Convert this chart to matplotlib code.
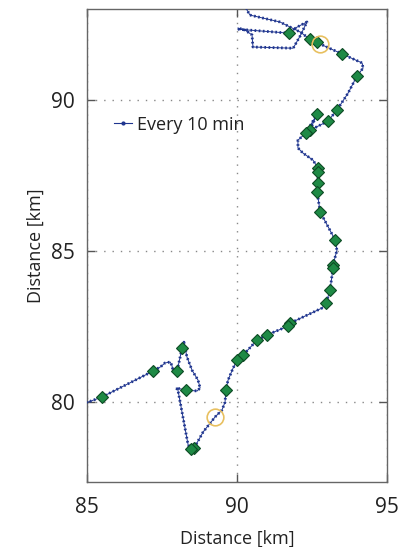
import matplotlib
matplotlib.use("Agg")
import matplotlib.pyplot as plt
from matplotlib.lines import Line2D

plt.rcParams['font.family'] = ['Open Sans', 'DejaVu Sans']

# Main ship track (km)
track_x = [90.28, 90.33, 90.43, 91.43, 92.10, 92.43, 92.67, 92.77, 93.50, 94.17, 94.20, 94.00,
           93.70, 93.33, 93.03, 92.43, 92.67, 92.30, 92.03, 92.03, 92.20, 92.53, 92.70, 92.70,
           92.70, 92.67, 92.77, 93.27, 93.33, 93.20, 93.20, 93.10, 92.97, 92.83, 91.77, 91.70,
           91.00, 90.67, 90.20, 90.00, 89.87, 89.70, 89.63, 89.60, 89.50, 89.27, 88.87, 88.57,
           88.47, 88.37, 88.03, 87.97, 88.30, 88.67, 88.77, 88.70, 88.50, 88.33, 88.23, 88.17,
           88.00, 87.87, 87.83, 87.77, 87.60, 87.45, 87.20, 85.50, 85.03, 84.80]
track_y = [93.20, 92.99, 92.82, 92.59, 92.26, 92.02, 91.92, 91.86, 91.53, 91.23, 91.06, 90.80,
           90.23, 89.67, 89.30, 89.00, 89.54, 88.91, 88.67, 88.41, 88.24, 88.01, 87.74, 87.61,
           87.25, 86.95, 86.29, 85.36, 85.02, 84.53, 84.43, 83.70, 83.27, 83.10, 82.60, 82.50,
           82.21, 82.04, 81.54, 81.38, 81.11, 80.71, 80.38, 79.98, 79.72, 79.49, 78.99, 78.46,
           78.42, 78.56, 80.38, 80.45, 80.38, 80.35, 80.45, 80.71, 81.04, 81.48, 81.97, 81.77,
           81.01, 81.00, 81.20, 81.31, 81.28, 81.15, 81.01, 80.15, 79.98, 79.95]

# Loop near the top of the track (km)
loop_x = [90.03, 91.73, 92.00, 92.33, 92.10, 91.87, 90.53, 90.50, 90.27, 90.03]
loop_y = [92.35, 92.22, 92.42, 92.59, 92.12, 91.72, 91.76, 92.16, 92.32, 92.39]

# Marked positions (green diamonds)
mark_x = [92.43, 92.67, 93.50, 94.00, 93.33, 93.03, 92.43, 92.67, 92.30, 92.70, 92.70, 92.70,
          92.67, 92.77, 93.27, 93.20, 93.20, 93.10, 92.97, 91.77, 91.70, 91.00, 90.67, 90.20,
          90.00, 89.63, 88.57, 88.47, 88.30, 88.17, 88.00, 87.20, 85.50, 91.73]
mark_y = [92.02, 91.92, 91.53, 90.80, 89.67, 89.30, 89.00, 89.54, 88.91, 87.74, 87.61, 87.25,
          86.95, 86.29, 85.36, 84.53, 84.43, 83.70, 83.27, 82.60, 82.50, 82.21, 82.04, 81.54,
          81.38, 80.38, 78.46, 78.42, 80.38, 81.77, 81.01, 81.01, 80.15, 92.22]

# Circled positions
circ_x = [92.77, 89.27]
circ_y = [91.86, 79.49]

x_ticks = [85, 90, 95]
y_ticks = [80, 85, 90]
legend_label = "Every 10 min"
axis_label = "Distance [km]"

track_color = '#1f358f'

fig = plt.figure(figsize=(4.07, 5.47), dpi=100)
ax = fig.add_axes([0.2138, 0.1188, 0.7372, 0.8647])

for xs, ys in [(track_x, track_y), (loop_x, loop_y)]:
    ax.plot(xs, ys, '-', color=track_color, lw=0.7, zorder=3)
    ax.plot(xs, ys, linestyle=(0, (0.6, 0.9)), color=track_color, lw=2.0, zorder=3)

ax.plot(mark_x, mark_y, linestyle='none', marker='D', markersize=6,
        markerfacecolor='#1e8a45', markeredgecolor='#0d4a24', markeredgewidth=0.8, zorder=4)
ax.plot(circ_x, circ_y, linestyle='none', marker='o', markersize=12,
        markerfacecolor='none', markeredgecolor='#e8c060', markeredgewidth=1.2, zorder=5)

ax.set_xlim(85, 95)
ax.set_ylim(77.33, 93.02)
ax.set_xticks(x_ticks)
ax.set_yticks(y_ticks)
ax.tick_params(direction='in', length=6, width=1, colors='#555555', labelcolor='#222222',
               labelsize=15, top=True, right=True)
ax.tick_params(axis='x', pad=11)
ax.tick_params(axis='y', pad=8.5)
for s in ax.spines.values():
    s.set_color('#666666')
    s.set_linewidth(1.0)
ax.grid(True, color='#888888', linestyle=(0, (1, 5)), linewidth=1.0)

ax.set_xlabel(axis_label, fontsize=13, color='#222222', labelpad=8)
ax.set_ylabel(axis_label, fontsize=13, color='#222222', labelpad=5)

handle = Line2D([], [], color=track_color, lw=0.8, marker='.', markersize=4)
ax.legend([handle], [legend_label], loc='upper left', bbox_to_anchor=(0.065, 0.79),
          frameon=False, fontsize=13, handlelength=1.0, handletextpad=0.3,
          labelcolor='#222222', borderaxespad=0)

fig.savefig('out.png', dpi=100)
